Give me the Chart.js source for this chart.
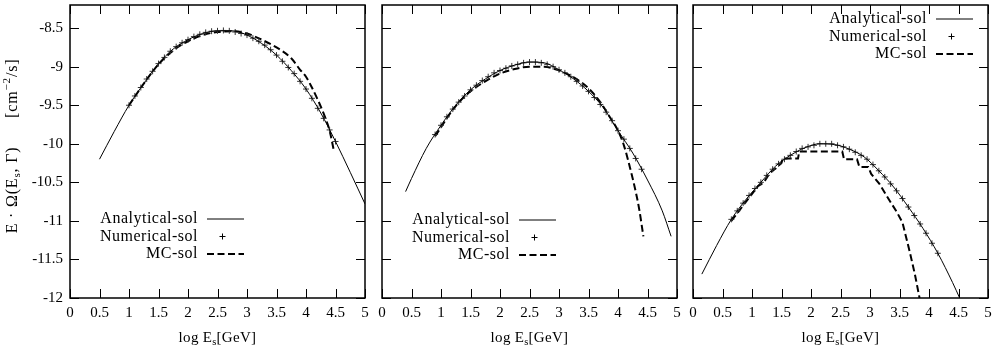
<!DOCTYPE html>
<html>
<head>
<meta charset="utf-8">
<script src="https://cdn.jsdelivr.net/npm/chart.js@4.4.0/dist/chart.umd.min.js"></script>
<style>
body{margin:0;background:#fff;width:995px;height:349px;overflow:hidden;position:relative}
canvas{position:absolute;left:0;top:0}
</style>
</head>
<body>
<canvas id="c1" width="995" height="349"></canvas>
<canvas id="c2" width="995" height="349"></canvas>
<canvas id="c3" width="995" height="349"></canvas>
<script>
// axis ticks
var xTicks = [0,0.5,1,1.5,2,2.5,3,3.5,4,4.5,5];
var xTickLabels = ["0","0.5","1","1.5","2","2.5","3","3.5","4","4.5","5"];
var yTicks = [-12,-11.5,-11,-10.5,-10,-9.5,-9,-8.5];
var yTickLabels = ["-12","-11.5","-11","-10.5","-10","-9.5","-9","-8.5"];
var legendNames = ["Analytical-sol","Numerical-sol","MC-sol"];

// panel 1
var ana1X = [0.5,0.75,1.0,1.25,1.5,1.75,2.0,2.25,2.5,2.75,3.0,3.25,3.5,3.75,4.0,4.25,4.5,4.75,5.0];
var ana1Y = [-10.2,-9.84,-9.5,-9.22,-8.96,-8.77,-8.65,-8.57,-8.535,-8.535,-8.59,-8.70,-8.85,-9.05,-9.29,-9.60,-9.97,-10.37,-10.78];
var num1X = [1.0,1.1,1.2,1.3,1.4,1.5,1.6,1.7,1.8,1.9,2.0,2.1,2.2,2.3,2.4,2.5,2.6,2.7,2.8,2.9,3.0,3.1,3.2,3.3,3.4,3.5,3.6,3.7,3.8,3.9,4.0,4.1,4.2,4.3,4.4,4.5];
var num1Y = [-9.50,-9.38,-9.27,-9.16,-9.06,-8.96,-8.88,-8.80,-8.74,-8.69,-8.65,-8.61,-8.58,-8.555,-8.54,-8.535,-8.53,-8.535,-8.55,-8.57,-8.59,-8.63,-8.67,-8.72,-8.78,-8.85,-8.93,-9.01,-9.09,-9.19,-9.29,-9.41,-9.54,-9.67,-9.82,-9.97];
var mc1X = [1.0,1.25,1.5,1.75,2.0,2.25,2.5,2.75,3.0,3.25,3.5,3.75,3.9,4.0,4.1,4.2,4.3,4.4,4.47];
var mc1Y = [-9.5,-9.22,-8.97,-8.79,-8.67,-8.59,-8.55,-8.54,-8.57,-8.65,-8.75,-8.89,-9.04,-9.13,-9.27,-9.43,-9.61,-9.83,-10.08];

// panel 2
var ana2X = [0.4,0.5,0.75,1.0,1.25,1.5,1.75,2.0,2.25,2.5,2.75,3.0,3.25,3.5,3.75,4.0,4.25,4.5,4.75,4.9];
var ana2Y = [-10.62,-10.45,-10.06,-9.76,-9.50,-9.30,-9.16,-9.05,-8.98,-8.94,-8.95,-9.04,-9.16,-9.32,-9.53,-9.83,-10.12,-10.47,-10.87,-11.2];
var num2X = [0.9,1.0,1.1,1.2,1.3,1.4,1.5,1.6,1.7,1.8,1.9,2.0,2.1,2.2,2.3,2.4,2.5,2.6,2.7,2.8,2.9,3.0,3.1,3.2,3.3,3.4,3.5,3.6,3.7,3.8,3.9,4.0,4.1,4.2,4.3,4.4];
var num2Y = [-9.88,-9.76,-9.65,-9.55,-9.46,-9.38,-9.30,-9.24,-9.18,-9.13,-9.08,-9.05,-9.02,-8.99,-8.97,-8.95,-8.94,-8.94,-8.95,-8.97,-9.00,-9.04,-9.08,-9.13,-9.19,-9.25,-9.32,-9.40,-9.49,-9.59,-9.70,-9.83,-9.94,-10.06,-10.19,-10.33];
var mc2X = [0.9,1.25,1.5,1.75,2.0,2.25,2.5,2.75,3.0,3.25,3.5,3.7,3.85,4.0,4.1,4.2,4.3,4.36,4.43];
var mc2Y = [-9.9,-9.51,-9.32,-9.19,-9.09,-9.03,-9.0,-9.0,-9.05,-9.14,-9.28,-9.46,-9.64,-9.83,-10.02,-10.3,-10.62,-10.85,-11.2];

// panel 3
var ana3X = [0.15,0.4,0.65,0.9,1.15,1.4,1.65,1.9,2.15,2.4,2.65,2.9,3.15,3.4,3.65,3.9,4.15,4.4,4.52];
var ana3Y = [-11.69,-11.32,-10.98,-10.72,-10.50,-10.29,-10.15,-10.05,-10.0,-10.01,-10.07,-10.17,-10.35,-10.56,-10.82,-11.10,-11.42,-11.80,-12.0];
var num3X = [0.65,0.75,0.85,0.95,1.05,1.15,1.25,1.35,1.45,1.55,1.65,1.75,1.85,1.95,2.05,2.15,2.25,2.35,2.45,2.55,2.65,2.75,2.85,2.95,3.05,3.15,3.25,3.35,3.45,3.55,3.65,3.75,3.85,3.95,4.05,4.15];
var num3Y = [-10.98,-10.87,-10.77,-10.67,-10.58,-10.50,-10.41,-10.33,-10.26,-10.20,-10.15,-10.10,-10.06,-10.04,-10.02,-10.00,-10.00,-10.00,-10.02,-10.04,-10.07,-10.11,-10.15,-10.20,-10.27,-10.35,-10.43,-10.52,-10.61,-10.71,-10.82,-10.93,-11.04,-11.16,-11.29,-11.42];
var mc3X = [0.65,0.8,0.95,1.1,1.2,1.3,1.4,1.5,1.52,1.78,1.8,2.53,2.56,2.78,2.82,2.97,3.02,3.16,3.31,3.45,3.55,3.67,3.76,3.84];
var mc3Y = [-11.0,-10.85,-10.7,-10.55,-10.5,-10.38,-10.32,-10.25,-10.19,-10.19,-10.10,-10.10,-10.20,-10.20,-10.30,-10.30,-10.39,-10.52,-10.71,-10.88,-11.02,-11.39,-11.69,-12.0];

var serif = '"Liberation Serif", "DejaVu Serif", serif';

function pts(xs, ys) {
    var out = [];
    for (var i = 0; i < xs.length; i++) out.push({x: xs[i], y: ys[i]});
    return out;
}

// draw text made of pieces (sub/superscripts), starting at x
function richText(ctx, parts, x, y, size) {
    parts.forEach(function(p) {
        var s = p.small ? size * 0.7 : size;
        ctx.font = s + 'px ' + serif;
        ctx.fillText(p.t, x, y + (p.dy || 0));
        x += ctx.measureText(p.t).width;
    });
    return x;
}
function richWidth(ctx, parts, size) {
    var w = 0;
    parts.forEach(function(p) {
        var s = p.small ? size * 0.7 : size;
        ctx.font = s + 'px ' + serif;
        w += ctx.measureText(p.t).width;
    });
    return w;
}

// gnuplot style box, inward ticks, labels and key
var gnuplotAxes = {
    id: 'gnuplotAxes',
    afterDraw: function(chart, args, opts) {
        var ctx = chart.ctx, a = chart.chartArea;
        var xs = chart.scales.x, ys = chart.scales.y;
        ctx.save();
        ctx.strokeStyle = '#000';
        ctx.fillStyle = '#000';
        ctx.lineWidth = 1;
        ctx.beginPath();
        xTicks.forEach(function(v) {
            var px = Math.round(xs.getPixelForValue(v)) + 0.5;
            ctx.moveTo(px, a.bottom); ctx.lineTo(px, a.bottom - 9);
            ctx.moveTo(px, a.top); ctx.lineTo(px, a.top + 9);
        });
        yTicks.forEach(function(v) {
            var py = Math.round(ys.getPixelForValue(v)) + 0.5;
            ctx.moveTo(a.left, py); ctx.lineTo(a.left + 9, py);
            ctx.moveTo(a.right, py); ctx.lineTo(a.right - 9, py);
        });
        ctx.stroke();
        ctx.lineWidth = 1.5;
        ctx.strokeRect(a.left, a.top, a.right - a.left, a.bottom - a.top);

        ctx.font = '15px ' + serif;
        ctx.textAlign = 'center';
        ctx.textBaseline = 'middle';
        xTicks.forEach(function(v, i) {
            ctx.fillText(xTickLabels[i], xs.getPixelForValue(v), 313);
        });
        if (opts.yLabels) {
            ctx.textAlign = 'right';
            yTicks.forEach(function(v, i) {
                ctx.fillText(yTickLabels[i], a.left - 7, ys.getPixelForValue(v));
            });
            // rotated y title
            var yt = [{t: 'E · Ω(E'}, {t: 's', small: true, dy: 4}, {t: ', Γ)      [cm'},
                      {t: '−2', small: true, dy: -6}, {t: '/s]'}];
            ctx.save();
            ctx.translate(13, 146);
            ctx.rotate(-Math.PI / 2);
            ctx.textAlign = 'left';
            ctx.letterSpacing = '0.8px';
            var w = richWidth(ctx, yt, 16);
            richText(ctx, yt, -w / 2, 0, 16);
            ctx.restore();
        }
        // x title
        ctx.textAlign = 'left';
        ctx.letterSpacing = '0.3px';
        var xt = [{t: 'log E'}, {t: 's', small: true, dy: 4}, {t: '[GeV]'}];
        var wx = richWidth(ctx, xt, 15);
        richText(ctx, xt, (a.left + a.right) / 2 - wx / 2, 338, 15);

        // key
        var k = opts.key;
        ctx.font = '16px ' + serif;
        ctx.letterSpacing = '0.5px';
        ctx.textAlign = 'right';
        legendNames.forEach(function(name, i) {
            var ry = k.y + i * 17.5;
            ctx.fillText(name, k.x, ry);
        });
        ctx.letterSpacing = '0px';
        ctx.lineWidth = 1;
        ctx.beginPath();
        ctx.moveTo(k.x + 9, k.y); ctx.lineTo(k.x + 46, k.y);
        ctx.stroke();
        ctx.beginPath();
        ctx.moveTo(k.x + 24.5, k.y + 17.5 - 3); ctx.lineTo(k.x + 24.5, k.y + 17.5 + 3);
        ctx.moveTo(k.x + 21.5, k.y + 17.5); ctx.lineTo(k.x + 27.5, k.y + 17.5);
        ctx.stroke();
        ctx.lineWidth = 2;
        ctx.setLineDash([7, 3.5]);
        ctx.beginPath();
        ctx.moveTo(k.x + 9, k.y + 35); ctx.lineTo(k.x + 46, k.y + 35);
        ctx.stroke();
        ctx.restore();
    }
};

function makePanel(id, left, right, ana, num, mc, mcSmooth, yLabels, key) {
    new Chart(document.getElementById(id), {
        type: 'line',
        data: {
            datasets: [{
                label: legendNames[0],
                data: ana,
                borderColor: '#000',
                borderWidth: 1,
                pointRadius: 0,
                cubicInterpolationMode: 'monotone'
            }, {
                label: legendNames[1],
                data: num,
                showLine: false,
                pointStyle: 'cross',
                pointRadius: 3,
                borderColor: '#333',
                borderWidth: 1
            }, {
                label: legendNames[2],
                data: mc,
                borderColor: '#000',
                borderWidth: 2,
                borderDash: [7, 3.5],
                pointRadius: 0,
                cubicInterpolationMode: mcSmooth ? 'monotone' : 'default',
                tension: 0
            }]
        },
        options: {
            responsive: false,
            animation: false,
            layout: {padding: {left: left, right: 995 - right, top: 1, bottom: 51}},
            scales: {
                x: {type: 'linear', min: 0, max: 5, display: false},
                y: {type: 'linear', min: -12, max: -8.2, display: false}
            },
            plugins: {
                legend: {display: false},
                tooltip: {enabled: false},
                gnuplotAxes: {yLabels: yLabels, key: key}
            }
        },
        plugins: [gnuplotAxes]
    });
}

makePanel('c1', 70, 365, pts(ana1X, ana1Y), pts(num1X, num1Y), pts(mc1X, mc1Y), true, true, {x: 198, y: 219});
makePanel('c2', 382, 677, pts(ana2X, ana2Y), pts(num2X, num2Y), pts(mc2X, mc2Y), true, false, {x: 510, y: 220});
makePanel('c3', 693, 988, pts(ana3X, ana3Y), pts(num3X, num3Y), pts(mc3X, mc3Y), false, false, {x: 927, y: 19});
</script>
</body>
</html>
